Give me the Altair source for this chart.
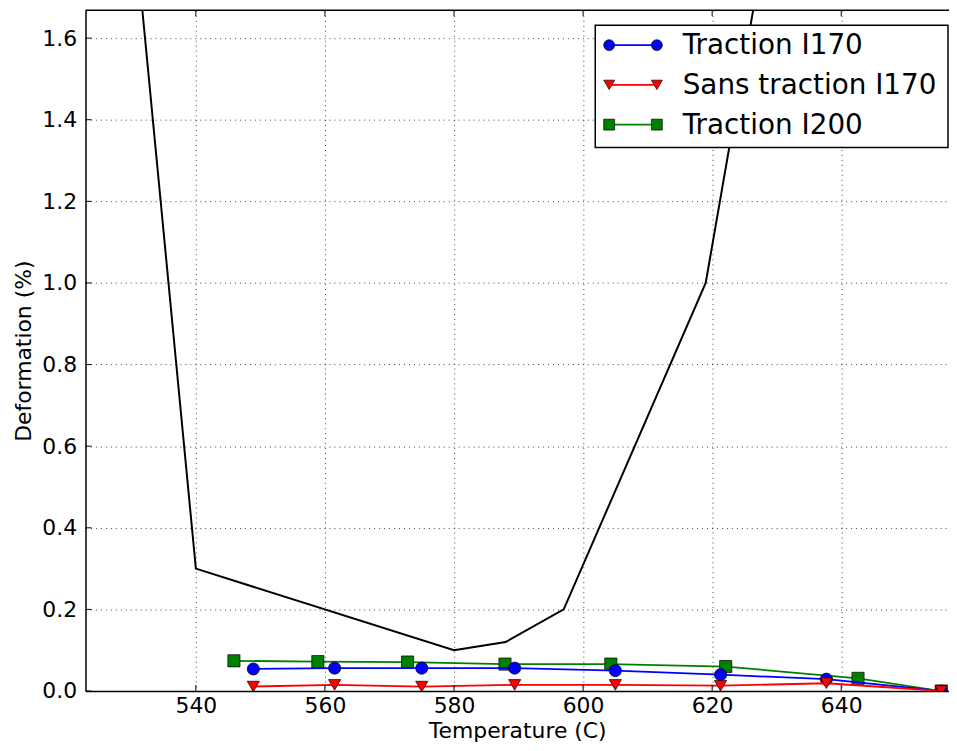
import altair as alt
import pandas as pd

# ---- data ----
temp_ref = [530, 540, 580, 588, 597, 619, 630]
def_ref = [1.95, 0.30, 0.10, 0.12, 0.20, 1.00, 2.00]

t_i170 = [548.9, 561.5, 575.0, 589.4, 605.0, 621.3, 637.7, 655.5]
trac_i170 = [0.054, 0.056, 0.056, 0.056, 0.050, 0.040, 0.029, 0.0]
sans_i170 = [0.011, 0.015, 0.011, 0.015, 0.015, 0.013, 0.019, 0.0]

t_i200 = [545.9, 558.9, 572.8, 587.9, 604.3, 622.1, 642.6, 655.5]
trac_i200 = [0.074, 0.072, 0.071, 0.066, 0.066, 0.060, 0.031, 0.0]

x_ticks = [540, 560, 580, 600, 620, 640]
y_ticks = [0.0, 0.2, 0.4, 0.6, 0.8, 1.0, 1.2, 1.4, 1.6]

series_labels = ["Traction I170", "Sans traction I170", "Traction I200"]
series_colors = ["#0000ff", "#ff0000", "#008000"]
series_shapes = ["circle", "triangle-down", "square"]

X_DOM = [522.9, 656.7]
Y_DOM = [0.0, 1.668]
W, H = 869, 685
FONT = "DejaVu Sans"

xs = alt.Scale(domain=X_DOM, nice=False, zero=False)
ys = alt.Scale(domain=Y_DOM, nice=False, zero=False)

x_axis = alt.Axis(values=x_ticks, format="d", title="Temperature (C)", grid=True,
                  labelPadding=5, titlePadding=4, titleFontSize=22)
y_axis = alt.Axis(values=y_ticks, format=".1f", title="Deformation (%)", grid=True,
                  labelPadding=9, titlePadding=6, titleFontSize=22)

df_ref = pd.DataFrame({"t": temp_ref, "d": def_ref})
df_a = pd.DataFrame({"t": t_i170, "d": trac_i170})
df_b = pd.DataFrame({"t": t_i170, "d": sans_i170})
df_c = pd.DataFrame({"t": t_i200, "d": trac_i200})

ref_line = alt.Chart(df_ref).mark_line(color="black", strokeWidth=2, clip=True).encode(
    x=alt.X("t:Q", scale=xs, axis=x_axis),
    y=alt.Y("d:Q", scale=ys, axis=y_axis),
)


def series(df, color, shape):
    base = alt.Chart(df).encode(x=alt.X("t:Q", scale=xs), y=alt.Y("d:Q", scale=ys))
    ln = base.mark_line(color=color, strokeWidth=1.8, clip=True)
    pt = base.mark_point(shape=shape, filled=True, fill=color, size=150, stroke="black",
                         strokeWidth=0.7, opacity=1, clip=True)
    return [ln, pt]


layers = [ref_line]
# drawing order: green, blue, red
layers += series(df_c, series_colors[2], series_shapes[2])
layers += series(df_a, series_colors[0], series_shapes[0])
layers += series(df_b, series_colors[1], series_shapes[1])

# inward ticks (matplotlib classic style)
df_xt = pd.DataFrame({"t": x_ticks})
df_yt = pd.DataFrame({"d": y_ticks})
layers.append(alt.Chart(df_xt).mark_rule(color="black", strokeWidth=1).encode(
    x=alt.X("t:Q", scale=xs), y=alt.value(H), y2=alt.value(H - 6)))
layers.append(alt.Chart(df_xt).mark_rule(color="black", strokeWidth=1).encode(
    x=alt.X("t:Q", scale=xs), y=alt.value(0), y2=alt.value(6)))
layers.append(alt.Chart(df_yt).mark_rule(color="black", strokeWidth=1).encode(
    y=alt.Y("d:Q", scale=ys), x=alt.value(0), x2=alt.value(6)))

one = pd.DataFrame({"a": [0]})
# top frame line
layers.append(alt.Chart(one).mark_rule(color="black", strokeWidth=1.5).encode(
    x=alt.value(0), x2=alt.value(W), y=alt.value(0)))

# legend box
LX0, LX1, LY0, LY1 = 513, 868, 15, 138
layers.append(alt.Chart(one).mark_rect(fill="white", stroke="black", strokeWidth=1.5).encode(
    x=alt.value(LX0), x2=alt.value(LX1), y=alt.value(LY0), y2=alt.value(LY1)))
for i, (lab, col, shp) in enumerate(zip(series_labels, series_colors, series_shapes)):
    yy = 35 + 40 * i
    layers.append(alt.Chart(one).mark_rule(color=col, strokeWidth=1.8).encode(
        x=alt.value(527), x2=alt.value(575), y=alt.value(yy)))
    for xx in (527, 575):
        layers.append(alt.Chart(one).mark_point(shape=shp, filled=True, fill=col, size=120,
                                                stroke="black", strokeWidth=0.7, opacity=1).encode(
            x=alt.value(xx), y=alt.value(yy)))
    layers.append(alt.Chart(one).mark_text(text=lab, align="left", baseline="middle",
                                           fontSize=28, font=FONT, color="black").encode(
        x=alt.value(601), y=alt.value(yy + 1)))

chart = alt.layer(*layers).properties(
    width=W, height=H,
    autosize=alt.AutoSizeParams(type="none"),
    padding={"left": 78, "top": 0, "right": 0, "bottom": 58},
).configure_view(stroke=None).configure_axis(
    labelFont=FONT, titleFont=FONT, labelFontSize=22, titleFontSize=22,
    titleFontWeight="normal", labelColor="black", titleColor="black",
    domainColor="black", domainWidth=1.5, tickSize=0,
    gridColor="black", gridOpacity=0.75, gridDash=[1, 4], gridWidth=1,
)

chart.save("out.html", embed_options={"renderer": "svg", "actions": False})
